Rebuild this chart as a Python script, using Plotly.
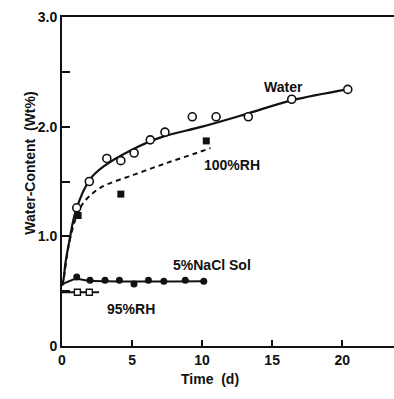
import plotly.graph_objects as go

# Measured points
water_t = [1.05, 1.95, 3.2, 4.2, 5.15, 6.3, 7.35, 9.3, 11.0, 13.3, 16.4, 20.4]
water_v = [1.26, 1.50, 1.71, 1.69, 1.76, 1.88, 1.95, 2.09, 2.09, 2.09, 2.25, 2.34]

rh100_t = [1.15, 4.2, 10.3]
rh100_v = [1.19, 1.385, 1.87]

nacl_t = [1.05, 2.0, 3.07, 4.1, 5.14, 6.17, 7.27, 8.8, 10.12]
nacl_v = [0.63, 0.60, 0.60, 0.60, 0.565, 0.60, 0.59, 0.60, 0.59]

rh95_t = [1.1, 1.95]
rh95_v = [0.49, 0.49]

# Fitted curves as drawn
water_fit_t = [0, 0.1, 0.25, 0.5, 1.0, 2.0, 3.0, 5.0, 7.0, 10.0, 13.0, 16.4, 20.4]
water_fit_v = [0.55, 0.60, 0.76, 0.94, 1.24, 1.52, 1.64, 1.79, 1.90, 2.00, 2.11, 2.24, 2.34]

rh100_fit_t = [0, 0.1, 0.5, 1.0, 1.5, 2.7, 5.1, 7.5, 9.6, 10.6]
rh100_fit_v = [0.55, 0.60, 0.93, 1.17, 1.30, 1.44, 1.56, 1.67, 1.76, 1.805]

nacl_fit_t = [0, 1.0, 2.0, 10.12]
nacl_fit_v = [0.56, 0.61, 0.595, 0.59]

rh95_fit_t = [0, 2.65]
rh95_fit_v = [0.49, 0.49]

x_ticks = [0, 5, 10, 15, 20]
y_ticks = [0, 0.5, 1.0, 1.5, 2.0, 2.5, 3.0]
y_ticktext = ["0", "", "1.0", "", "2.0", "", "3.0"]

FONT = "Liberation Sans"
BLACK = "#111111"

fig = go.Figure()

fig.add_trace(go.Scatter(x=water_fit_t, y=water_fit_v, mode="lines",
                         line=dict(color=BLACK, width=2.2, shape="spline"), hoverinfo="skip"))
fig.add_trace(go.Scatter(x=rh100_fit_t, y=rh100_fit_v, mode="lines",
                         line=dict(color=BLACK, width=2, dash="5px,4px", shape="spline"), hoverinfo="skip"))
fig.add_trace(go.Scatter(x=nacl_fit_t, y=nacl_fit_v, mode="lines",
                         line=dict(color=BLACK, width=2, shape="spline"), hoverinfo="skip"))
fig.add_trace(go.Scatter(x=rh95_fit_t, y=rh95_fit_v, mode="lines",
                         line=dict(color=BLACK, width=1.8), hoverinfo="skip"))

fig.add_trace(go.Scatter(x=water_t, y=water_v, mode="markers",
                         marker=dict(symbol="circle", size=8, color="white",
                                     line=dict(color=BLACK, width=1.6))))
fig.add_trace(go.Scatter(x=rh100_t, y=rh100_v, mode="markers",
                         marker=dict(symbol="square", size=7, color=BLACK,
                                     line=dict(color=BLACK, width=0))))
fig.add_trace(go.Scatter(x=nacl_t, y=nacl_v, mode="markers",
                         marker=dict(symbol="circle", size=7, color=BLACK,
                                     line=dict(color=BLACK, width=0))))
fig.add_trace(go.Scatter(x=rh95_t, y=rh95_v, mode="markers",
                         marker=dict(symbol="square", size=6, color="white",
                                     line=dict(color=BLACK, width=1.4))))

labels = [
    ("Water", 15.8, 2.36, 14),
    ("100%RH", 12.1, 1.65, 14),
    ("5%NaCl Sol", 10.7, 0.74, 14),
    ("95%RH", 4.9, 0.34, 14),
]
for txt, x, y, sz in labels:
    fig.add_annotation(x=x, y=y, text=txt, showarrow=False, xref="x", yref="y",
                       font=dict(family=FONT, size=sz, color=BLACK, weight="bold"))

fig.add_annotation(x=0.446, y=-0.131, xref="paper", yref="paper", text="Time  (d)",
                   showarrow=False, font=dict(family=FONT, size=14, color=BLACK, weight="bold"))
fig.add_annotation(x=-0.1265, y=0.554, xref="paper", yref="paper", text="Water-Content  (Wt%)",
                   textangle=-90, showarrow=False,
                   font=dict(family=FONT, size=14, color=BLACK, weight="bold"))

fig.update_layout(
    width=394, height=399,
    margin=dict(l=62, r=0, t=17, b=53),
    paper_bgcolor="white", plot_bgcolor="white",
    showlegend=False,
    font=dict(family=FONT, color=BLACK),
    xaxis=dict(range=[0, 23.7], tickvals=x_ticks, ticks="inside", ticklen=6, tickwidth=1.5,
               tickcolor=BLACK, showline=True, linecolor=BLACK, linewidth=2, mirror=True,
               showgrid=False, zeroline=False,
               tickfont=dict(family=FONT, size=14, color=BLACK, weight="bold")),
    yaxis=dict(range=[0, 3.0], tickvals=y_ticks, ticktext=y_ticktext, ticks="inside",
               ticklen=8, tickwidth=1.5, tickcolor=BLACK, showline=True, linecolor=BLACK,
               linewidth=2, mirror=False, showgrid=False, zeroline=False,
               tickfont=dict(family=FONT, size=14, color=BLACK, weight="bold")),
)

fig.write_html(
    "out.html",
    config={"displayModeBar": False},
    post_script="document.body.style.margin='0';document.body.style.overflow='hidden';",
)
